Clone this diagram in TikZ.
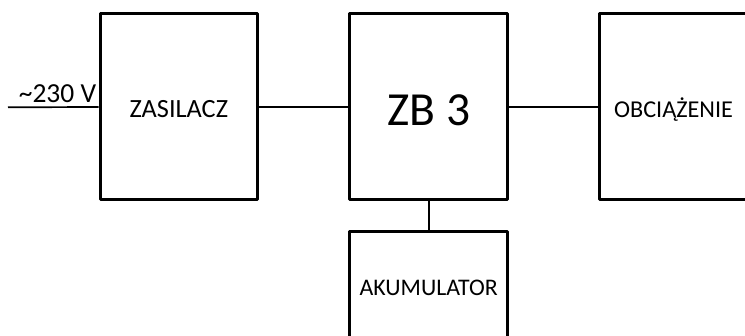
\documentclass[tikz,border=0pt]{standalone}
\usepackage{fontspec}
\setmainfont{Carlito}
\begin{document}
\begin{tikzpicture}[x=1pt,y=-1pt,
  box/.style={draw, line width=3pt, line join=round, rectangle, inner sep=0pt,
    minimum width=157.5pt, minimum height=186pt, text height=21.8pt, text depth=0pt,
    font=\fontsize{26.3}{30}\selectfont},
  wire/.style={line width=1.7pt}]
\useasboundingbox (0,0) rectangle (745,336);
\clip (0,0) rectangle (745,336);
\node[box] (zas) at (178.8,107) {ZASILACZ};
\node[box, font=\fontsize{47.5}{54}\selectfont, text height=36.6pt] (zb) at (428.7,107) {ZB 3};
\node[box, minimum width=149pt, font=\fontsize{24.2}{28}\selectfont, text height=20.6pt] (obc) at (673.5,107) {OBCIĄŻENIE};
\node[box, minimum height=106.6pt, font=\fontsize{23.8}{28}\selectfont, text height=20.3pt] (aku) at (428.7,285) {AKUMULATOR};
\coordinate (in) at (8,107.3);
\draw[wire] (in) -- (zas.west);
\node[anchor=base, inner sep=0pt, font=\fontsize{27.5}{30}\selectfont] (v) at (57.5,103) {\textasciitilde 230 V};
\draw[wire] (zas.east) -- (zb.west);
\draw[wire] (zb.east) -- (obc.west);
\draw[wire] (zb.south) -- (aku.north);
\end{tikzpicture}
\end{document}
